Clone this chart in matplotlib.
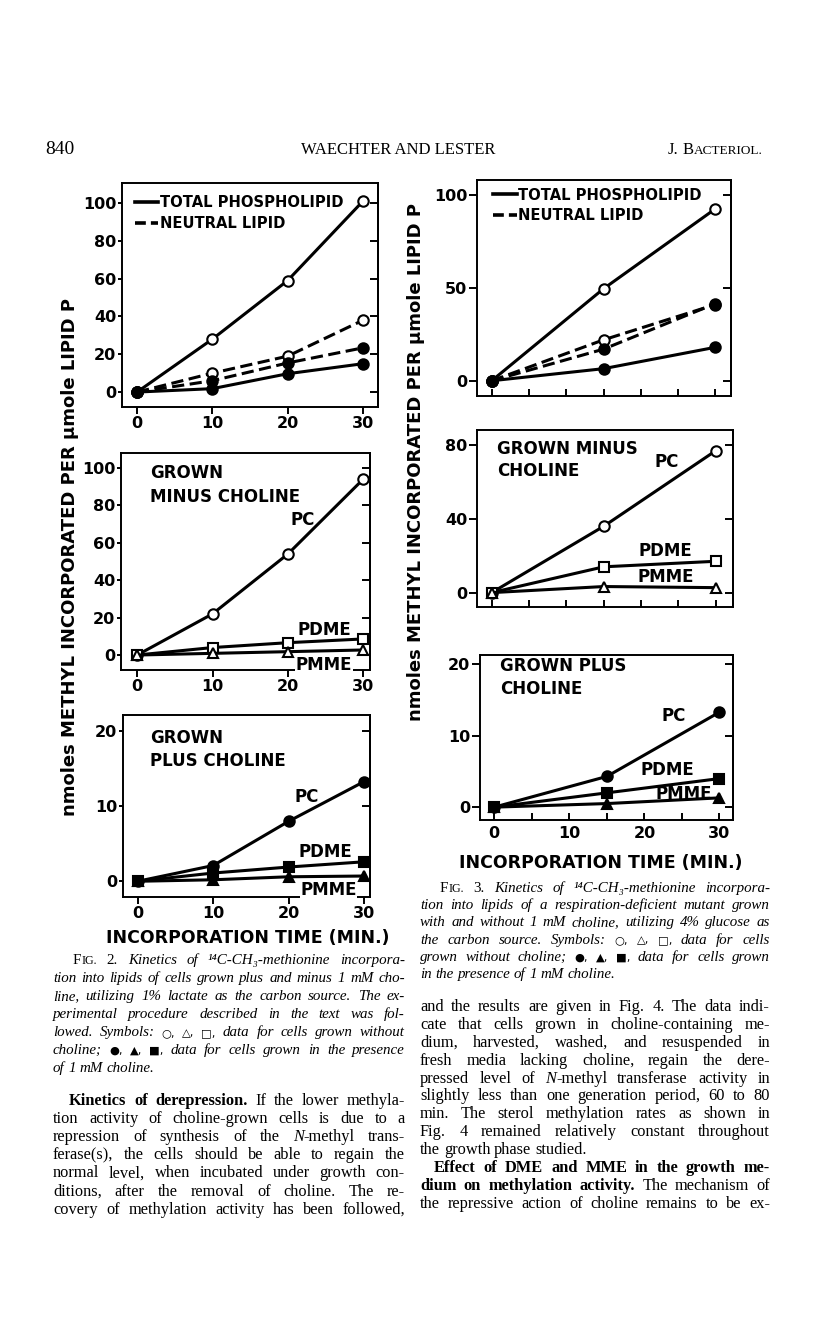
import matplotlib
matplotlib.use('Agg')
import matplotlib.pyplot as plt
from matplotlib.lines import Line2D

W, H = 816, 1321

# ---- Fig. 2 data (1% lactate) ----
f2_time = [0, 10, 20, 30]
f2_total_minus = [0, 28, 59, 101]
f2_total_plus = [0, 1.8, 9.7, 15]
f2_neutral_minus = [0, 10, 19, 38]
f2_neutral_plus = [0, 6, 15.4, 23.4]
f2_pc_minus = [0, 22, 54, 94]
f2_pdme_minus = [0, 4, 6.6, 8.6]
f2_pmme_minus = [0, 0.9, 1.8, 2.7]
f2_pc_plus = [0, 2.1, 8, 13.3]
f2_pdme_plus = [0, 1.1, 1.9, 2.6]
f2_pmme_plus = [0, 0.2, 0.6, 0.7]

# ---- Fig. 3 data (4% glucose, respiration-deficient mutant) ----
f3_time = [0, 15, 30]
f3_total_minus = [0, 49.5, 92.5]
f3_total_plus = [0, 6.5, 18]
f3_neutral_minus = [0, 22, 41]
f3_neutral_plus = [0, 17, 41.5]
f3_pc_minus = [0, 36, 77]
f3_pdme_minus = [0, 14, 17]
f3_pmme_minus = [0, 3.3, 2.7]
f3_pc_plus = [0, 4.3, 13.3]
f3_pdme_plus = [0, 2.0, 4.0]
f3_pmme_plus = [0, 0.5, 1.3]

legend_labels = ['TOTAL PHOSPHOLIPID', 'NEUTRAL LIPID']
ylabel = 'nmoles METHYL INCORPORATED PER \u00b5mole LIPID P'
xlabel = 'INCORPORATION TIME (MIN.)'

plt.rcParams['font.family'] = ['DejaVu Sans']
plt.rcParams['font.weight'] = 'bold'

fig = plt.figure(figsize=(W / 100, H / 100), dpi=100)
fig.patch.set_facecolor('white')

LW = 1.4
DASH = (0, (4, 1.8))


def add_ax(l, t, r, b):
    return fig.add_axes([l / W, 1 - b / H, (r - l) / W, (b - t) / H])


def setup(ax, xlim, ylim, yticks, xticks, xlabels, xdir, ylen):
    ax.set_xlim(*xlim)
    ax.set_ylim(*ylim)
    ax.set_yticks(yticks)
    ax.set_xticks(xticks, xlabels)
    for sp in ax.spines.values():
        sp.set_linewidth(LW)
    ax.tick_params(axis='y', direction='out', length=ylen, width=LW, pad=1, labelsize=11.5)
    ax.tick_params(axis='x', direction=xdir, length=5, width=LW,
                   pad=1.5 if xdir == 'out' else 4.5, labelsize=11.5)
    sec = ax.secondary_yaxis('right')
    sec.set_yticks(yticks)
    sec.tick_params(direction='in', length=6, width=LW, labelright=False)
    sec.spines['right'].set_linewidth(LW)


def curve(ax, x, y, marker, filled, ls='-', ms=7.5):
    ax.plot(x, y, color='k', lw=2.2, ls=ls, marker=marker, ms=ms,
            mfc='k' if filled else 'white', mec='k', mew=1.5,
            clip_on=False, zorder=3)


def legend(ax, x, y):
    handles = [Line2D([], [], color='k', lw=2.6),
               Line2D([], [], color='k', lw=2.6, ls=(0, (3, 1.4)))]
    ax.legend(handles, legend_labels, loc='upper left', bbox_to_anchor=(x, y),
              frameon=False, borderaxespad=0, borderpad=0, handlelength=1.6,
              handletextpad=0.12, labelspacing=0.4, fontsize=10.6)


def note(ax, x, y, s, ha='center', box=False):
    kw = {}
    if box:
        kw['bbox'] = dict(facecolor='white', edgecolor='none', pad=0.5)
    ax.text(x, y, s, ha=ha, va='center', fontsize=12, zorder=5, **kw)


# ---------------- Fig. 2 ----------------
ax = add_ax(122, 183, 378, 407)
setup(ax, (-2, 32), (-7.9, 110.6), [0, 20, 40, 60, 80, 100], f2_time,
      ['0', '10', '20', '30'], 'out', 3)
curve(ax, f2_time, f2_total_minus, 'o', False)
curve(ax, f2_time, f2_neutral_minus, 'o', False, DASH)
curve(ax, f2_time, f2_neutral_plus, 'o', True, DASH)
curve(ax, f2_time, f2_total_plus, 'o', True)
legend(ax, 0.05, 0.945)

ax = add_ax(121, 453, 370, 670)
setup(ax, (-2.15, 30.9), (-8, 108), [0, 20, 40, 60, 80, 100], f2_time,
      ['0', '10', '20', '30'], 'out', 3)
curve(ax, f2_time, f2_pc_minus, 'o', False)
curve(ax, f2_time, f2_pdme_minus, 's', False, ms=7)
curve(ax, f2_time, f2_pmme_minus, '^', False)
note(ax, 1.7, 97.5, 'GROWN', 'left')
note(ax, 1.7, 84.6, 'MINUS CHOLINE', 'left')
note(ax, 21.9, 72, 'PC')
note(ax, 24.9, 13.4, 'PDME')
note(ax, 24.8, -5.4, 'PMME', box=True)

ax = add_ax(123, 715, 370, 897)
setup(ax, (-1.95, 30.8), (-2.1, 22.2), [0, 10, 20], f2_time,
      ['0', '10', '20', '30'], 'out', 3)
curve(ax, f2_time, f2_pc_plus, 'o', True)
curve(ax, f2_time, f2_pdme_plus, 's', True, ms=7)
curve(ax, f2_time, f2_pmme_plus, '^', True)
note(ax, 1.6, 19.1, 'GROWN', 'left')
note(ax, 1.6, 16.0, 'PLUS CHOLINE', 'left')
note(ax, 22.4, 11.3, 'PC')
note(ax, 24.9, 3.9, 'PDME')
note(ax, 25.3, -1.1, 'PMME', box=True)

fig.text(70 / W, 1 - 557 / H, ylabel, rotation=90, ha='center', va='center', fontsize=13)
fig.text(248 / W, 1 - 938 / H, xlabel, ha='center', va='center', fontsize=12.5)

# ---------------- Fig. 3 ----------------
ticks5 = [0, 5, 10, 15, 20, 25, 30]
ax = add_ax(477, 180, 731, 396)
setup(ax, (-1.97, 32.1), (-8.2, 108), [0, 50, 100], ticks5, [''] * 7, 'in', 6)
curve(ax, f3_time, f3_total_minus, 'o', False)
curve(ax, f3_time, f3_neutral_minus, 'o', False, DASH)
curve(ax, f3_time, f3_neutral_plus, 'o', True, DASH)
curve(ax, f3_time, f3_total_plus, 'o', True)
legend(ax, 0.063, 0.965)

ax = add_ax(477, 430, 733, 607)
setup(ax, (-1.97, 32.3), (-7.8, 88.2), [0, 40, 80], ticks5, [''] * 7, 'in', 6)
curve(ax, f3_time, f3_pc_minus, 'o', False)
curve(ax, f3_time, f3_pdme_minus, 's', False, ms=7)
curve(ax, f3_time, f3_pmme_minus, '^', False)
note(ax, 0.7, 77.7, 'GROWN MINUS', 'left')
note(ax, 0.7, 65.7, 'CHOLINE', 'left')
note(ax, 23.4, 70.6, 'PC')
note(ax, 23.3, 22.7, 'PDME')
note(ax, 23.3, 8.5, 'PMME')

ax = add_ax(480, 655, 733, 820)
setup(ax, (-1.9, 31.8), (-1.8, 21.3), [0, 10, 20], ticks5,
      ['0', '', '10', '', '20', '', '30'], 'in', 6)
curve(ax, f3_time, f3_pc_plus, 'o', True)
curve(ax, f3_time, f3_pdme_plus, 's', True, ms=7)
curve(ax, f3_time, f3_pmme_plus, '^', True)
note(ax, 0.8, 19.8, 'GROWN PLUS', 'left')
note(ax, 0.8, 16.6, 'CHOLINE', 'left')
note(ax, 23.9, 12.7, 'PC')
note(ax, 23.0, 5.2, 'PDME')
note(ax, 25.2, 1.85, 'PMME')

fig.text(416 / W, 1 - 462 / H, ylabel, rotation=90, ha='center', va='center', fontsize=13)
fig.text(601 / W, 1 - 863 / H, xlabel, ha='center', va='center', fontsize=12.5)

# ---------------- page text ----------------
SERIF = ['Liberation Serif', 'DejaVu Serif']
BODY = 11.8
CAP = 10.8
STY = {
    'r': dict(family=SERIF, fontsize=BODY, weight='normal'),
    'i': dict(family=SERIF, fontsize=BODY, weight='normal', style='italic'),
    'b': dict(family=SERIF, fontsize=BODY, weight='bold'),
    'cr': dict(family=SERIF, fontsize=CAP, weight='normal'),
    'ci': dict(family=SERIF, fontsize=CAP, weight='normal', style='italic'),
    'csc': dict(family=SERIF, fontsize=CAP * 0.8, weight='normal'),
    'sym': dict(family=['DejaVu Sans'], fontsize=8.2, weight='normal'),
    'hd': dict(family=SERIF, fontsize=12, weight='normal'),
    'hsc': dict(family=SERIF, fontsize=9.5, weight='normal'),
    'pg': dict(family=SERIF, fontsize=14, weight='normal'),
}
renderer = fig.canvas.get_renderer()


def words_of(segments):
    words, cur = [], []
    for text, st in segments:
        for i, p in enumerate(text.split(' ')):
            if i > 0 and cur:
                words.append(cur)
                cur = []
            if p:
                cur.append((p, st))
    if cur:
        words.append(cur)
    return words


def set_line(segments, x0, x1, y, justify=True):
    if isinstance(segments, str):
        segments = [(segments, 'r')]
    placed, widths = [], []
    for w in words_of(segments):
        runs, tot = [], 0
        for s, st in w:
            t = fig.text(0, 0, s, va='baseline', ha='left', **STY[st])
            wd = t.get_window_extent(renderer).width
            runs.append((t, wd))
            tot += wd
        placed.append(runs)
        widths.append(tot)
    if justify and len(placed) > 1:
        gap = max(2.5, (x1 - x0 - sum(widths)) / (len(placed) - 1))
    else:
        gap = 3.8
    x = x0
    for runs in placed:
        for t, wd in runs:
            t.set_position((x / W, 1 - y / H))
            x += wd
        x += gap


def paragraph(lines, x0, x1, y0, dy, indent=0, last_justify=False, first_indent=True):
    for k, seg in enumerate(lines):
        xs = x0 + (indent if (k == 0 and first_indent) else 0)
        just = last_justify or k < len(lines) - 1
        set_line(seg, xs, x1, y0 + k * dy, just)


# running head
set_line([('840', 'pg')], 45, 100, 154, False)
fig.text(398 / W, 1 - 154 / H, 'WAECHTER AND LESTER', ha='center', va='baseline', **STY['hd'])
set_line([('J. B', 'hd'), ('ACTERIOL.', 'hsc')], 668, 770, 154, False)

sym_open = '\u25cb, \u25b3, \u25a1,'
sym_full = '\u25cf, \u25b2, \u25a0,'
meth = 'Kinetics of \u00b9\u2074C-CH\u2083-methionine incorpora-'

fig2_caption = [
    [('F', 'cr'), ('IG.', 'csc'), (' 2. ', 'cr'), (meth, 'ci')],
    [('tion into lipids of cells grown plus and minus 1 mM cho-', 'ci')],
    [('line, utilizing 1% lactate as the carbon source. The ex-', 'ci')],
    [('perimental procedure described in the text was fol-', 'ci')],
    [('lowed. Symbols: ', 'ci'), (sym_open, 'sym'), (' data for cells grown without', 'ci')],
    [('choline; ', 'ci'), (sym_full, 'sym'), (' data for cells grown in the presence', 'ci')],
    [('of 1 mM choline.', 'ci')],
]
paragraph(fig2_caption, 53, 405, 964, 18, indent=20)

left_body = [
    [('Kinetics of derepression.', 'b'), (' If the lower methyla-', 'r')],
    'tion activity of choline-grown cells is due to a',
    [('repression of synthesis of the ', 'r'), ('N', 'i'), ('-methyl trans-', 'r')],
    'ferase(s), the cells should be able to regain the',
    'normal level, when incubated under growth con-',
    'ditions, after the removal of choline. The re-',
    'covery of methylation activity has been followed,',
]
paragraph(left_body, 53, 405, 1105, 18.1, indent=16, last_justify=True)

fig3_caption = [
    [('F', 'cr'), ('IG.', 'csc'), (' 3. ', 'cr'), (meth, 'ci')],
    [('tion into lipids of a respiration-deficient mutant grown', 'ci')],
    [('with and without 1 mM choline, utilizing 4% glucose as', 'ci')],
    [('the carbon source. Symbols: ', 'ci'), (sym_open, 'sym'), (' data for cells', 'ci')],
    [('grown without choline; ', 'ci'), (sym_full, 'sym'), (' data for cells grown', 'ci')],
    [('in the presence of 1 mM choline.', 'ci')],
]
paragraph(fig3_caption, 420, 770, 892, 17.2, indent=20)

right_body_a = [
    'and the results are given in Fig. 4. The data indi-',
    'cate that cells grown in choline-containing me-',
    'dium, harvested, washed, and resuspended in',
    'fresh media lacking choline, regain the dere-',
    [('pressed level of ', 'r'), ('N', 'i'), ('-methyl transferase activity in', 'r')],
    'slightly less than one generation period, 60 to 80',
    'min. The sterol methylation rates as shown in',
    'Fig. 4 remained relatively constant throughout',
    'the growth phase studied.',
]
paragraph(right_body_a, 420, 770, 1011, 17.9, first_indent=False)

right_body_b = [
    [('Effect of DME and MME in the growth me-', 'b')],
    [('dium on methylation activity.', 'b'), (' The mechanism of', 'r')],
    'the repressive action of choline remains to be ex-',
]
paragraph(right_body_b, 420, 770, 1011 + 9 * 17.9, 17.9, indent=14, last_justify=True)

fig.savefig('out.png', dpi=100, facecolor='white')
